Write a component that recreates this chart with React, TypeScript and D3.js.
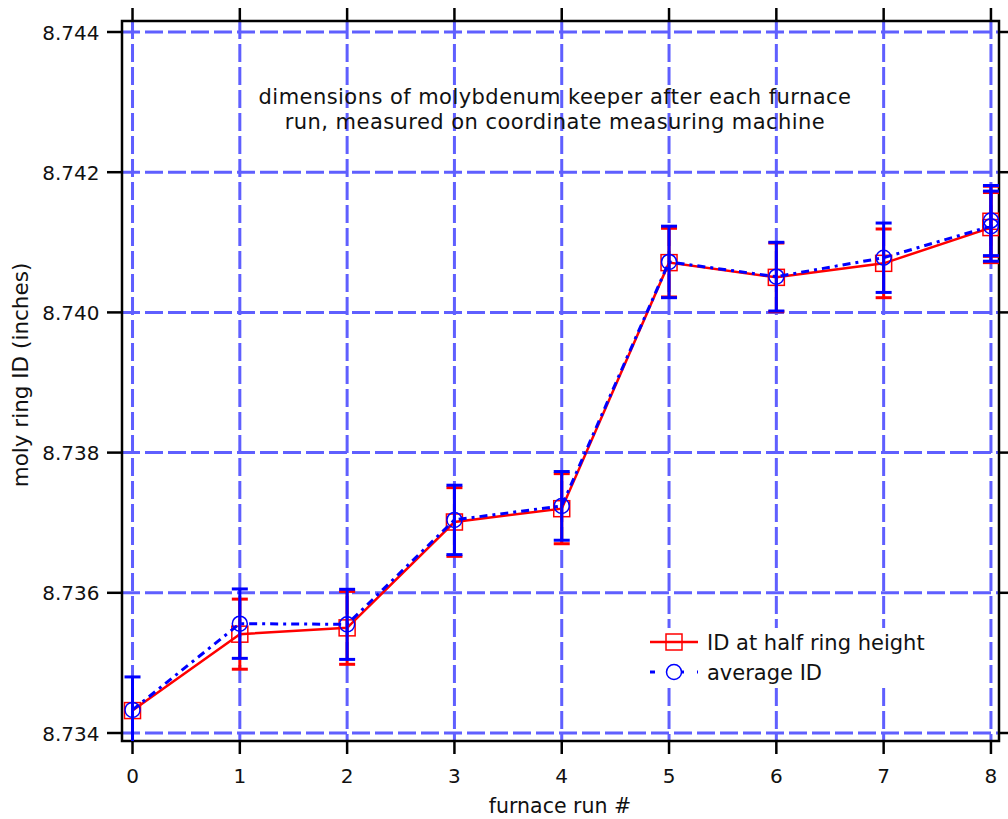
import React from "react";
import * as d3 from "d3";

const runs = [0, 1, 2, 3, 4, 5, 6, 7, 8, 8];
const halfHeightID = [8.73432, 8.73541, 8.7355, 8.73701, 8.7372, 8.74071, 8.7405, 8.7407, 8.74121, 8.7413];
const halfHeightErr = [0, 0.0005, 0.00052, 0.00049, 0.0005, 0.00049, 0.00049, 0.00049, 0.0005, 0.0005];
const averageID = [8.73433, 8.73556, 8.73555, 8.73704, 8.73724, 8.74072, 8.74051, 8.74078, 8.74123, 8.74131];
const averageErr = [0.00047, 0.000495, 0.0005, 0.000495, 0.00049, 0.00051, 0.00049, 0.000495, 0.0005, 0.0005];

const xTicks = [0, 1, 2, 3, 4, 5, 6, 7, 8];
const yTicks = [8.734, 8.736, 8.738, 8.74, 8.742, 8.744];

const titleLines = [
  "dimensions of molybdenum keeper after each furnace",
  "run, measured on coordinate measuring machine",
];
const xLabel = "furnace run #";
const yLabel = "moly ring ID (inches)";
const legendLabels = ["ID at half ring height", "average ID"];

const W = 1008;
const H = 819;
const L = 122, R = 999, T = 21, B = 741;
const FONT = "DejaVu Sans, Verdana, sans-serif";
const GRID = "#5f5fff";
const RED = "#ff0000";
const BLUE = "#0000ff";

export default function App() {
  const x = d3.scaleLinear().domain([-0.098, 8.075]).range([L, R]);
  const y = d3.scaleLinear().domain([8.733886, 8.744157]).range([B, T]);

  const redPts = runs.map((r, i) => ({ x: r, y: halfHeightID[i], e: halfHeightErr[i] }));
  const bluePts = runs.map((r, i) => ({ x: r, y: averageID[i], e: averageErr[i] }));

  const line = d3
    .line<{ x: number; y: number }>()
    .x((d) => x(d.x))
    .y((d) => y(d.y));

  const errBars = (pts: { x: number; y: number; e: number }[], color: string, key: string) =>
    pts
      .filter((p) => p.e > 0)
      .map((p, i) => {
        const cx = x(p.x);
        const y1 = y(p.y + p.e);
        const y2 = y(p.y - p.e);
        return (
          <g key={key + i} stroke={color} strokeWidth={3}>
            <line x1={cx} x2={cx} y1={y1} y2={y2} />
            <line x1={cx - 8} x2={cx + 8} y1={y1} y2={y1} />
            <line x1={cx - 8} x2={cx + 8} y1={y2} y2={y2} />
          </g>
        );
      });

  const blueDash = "8,5,3,5";

  return (
    <svg
      width={W}
      height={H}
      style={{ position: "absolute", left: 0, top: 0, background: "#fff" }}
      fontFamily={FONT}
    >
      <defs>
        <clipPath id="plotClip">
          <rect x={L} y={T} width={R - L} height={B - T} />
        </clipPath>
      </defs>
      <rect x={0} y={0} width={W} height={H} fill="#fff" />

      {/* grid */}
      <g stroke={GRID} strokeWidth={3} strokeDasharray="18,5">
        {yTicks.map((t) => (
          <line key={"gy" + t} x1={L} x2={R} y1={y(t)} y2={y(t)} />
        ))}
        {xTicks.map((t) => (
          <line key={"gx" + t} x1={x(t)} x2={x(t)} y1={T} y2={B} />
        ))}
      </g>

      {/* frame and ticks */}
      <rect x={L} y={T} width={R - L} height={B - T} fill="none" stroke="#000" strokeWidth={2.5} />
      <g stroke="#000" strokeWidth={2.5}>
        {yTicks.map((t) => (
          <g key={"ty" + t}>
            <line x1={L - 15} x2={L} y1={y(t)} y2={y(t)} />
            <line x1={R} x2={R + 13} y1={y(t)} y2={y(t)} />
          </g>
        ))}
        {xTicks.map((t) => (
          <g key={"tx" + t}>
            <line x1={x(t)} x2={x(t)} y1={B} y2={B + 13} />
            <line x1={x(t)} x2={x(t)} y1={T - 13} y2={T} />
          </g>
        ))}
      </g>

      {/* tick labels */}
      <g fontSize={20} fill="#111">
        {yTicks.map((t) => (
          <text key={"ly" + t} x={99.5} y={y(t) + 7.5} textAnchor="end">
            {d3.format(".3f")(t)}
          </text>
        ))}
        {xTicks.map((t) => (
          <text key={"lx" + t} x={x(t)} y={783} textAnchor="middle">
            {t}
          </text>
        ))}
      </g>

      {/* axis labels */}
      <text x={560} y={813} textAnchor="middle" fontSize={20.5} fill="#111">
        {xLabel}
      </text>
      <text
        transform="translate(28,375) rotate(-90)"
        textAnchor="middle"
        fontSize={21.5}
        fill="#111"
      >
        {yLabel}
      </text>

      {/* title */}
      <g fontSize={21} fill="#111" textAnchor="middle" letterSpacing={0.45}>
        {titleLines.map((s, i) => (
          <text key={"t" + i} x={555} y={104 + i * 25}>
            {s}
          </text>
        ))}
      </g>

      {/* data */}
      <g clipPath="url(#plotClip)">
        {errBars(redPts, RED, "er")}
        <path d={line(redPts) || ""} fill="none" stroke={RED} strokeWidth={2.5} />
        {redPts.map((p, i) => (
          <rect
            key={"sq" + i}
            x={x(p.x) - 8}
            y={y(p.y) - 8}
            width={16}
            height={16}
            fill="none"
            stroke={RED}
            strokeWidth={1.5}
          />
        ))}
        {errBars(bluePts, BLUE, "eb")}
        <path
          d={line(bluePts) || ""}
          fill="none"
          stroke={BLUE}
          strokeWidth={3}
          strokeDasharray={blueDash}
        />
        {bluePts.map((p, i) => (
          <circle
            key={"ci" + i}
            cx={x(p.x)}
            cy={y(p.y)}
            r={7.5}
            fill="none"
            stroke={BLUE}
            strokeWidth={1.5}
          />
        ))}
      </g>

      {/* legend */}
      <g>
        <rect x={650} y={628} width={285} height={58} fill="#fff" />
        <line x1={650} x2={698} y1={642} y2={642} stroke={RED} strokeWidth={2.5} />
        <rect x={666} y={634} width={16} height={16} fill="none" stroke={RED} strokeWidth={1.5} />
        <text x={707} y={649.5} fontSize={21} fill="#111">
          {legendLabels[0]}
        </text>
        <line
          x1={650}
          x2={698}
          y1={672}
          y2={672}
          stroke={BLUE}
          strokeWidth={3}
          strokeDasharray="5,13,3,10,3,13,5"
        />
        <circle cx={674} cy={672} r={7.5} fill="#fff" stroke={BLUE} strokeWidth={1.5} />
        <text x={707} y={679.5} fontSize={21} fill="#111">
          {legendLabels[1]}
        </text>
      </g>
    </svg>
  );
}
